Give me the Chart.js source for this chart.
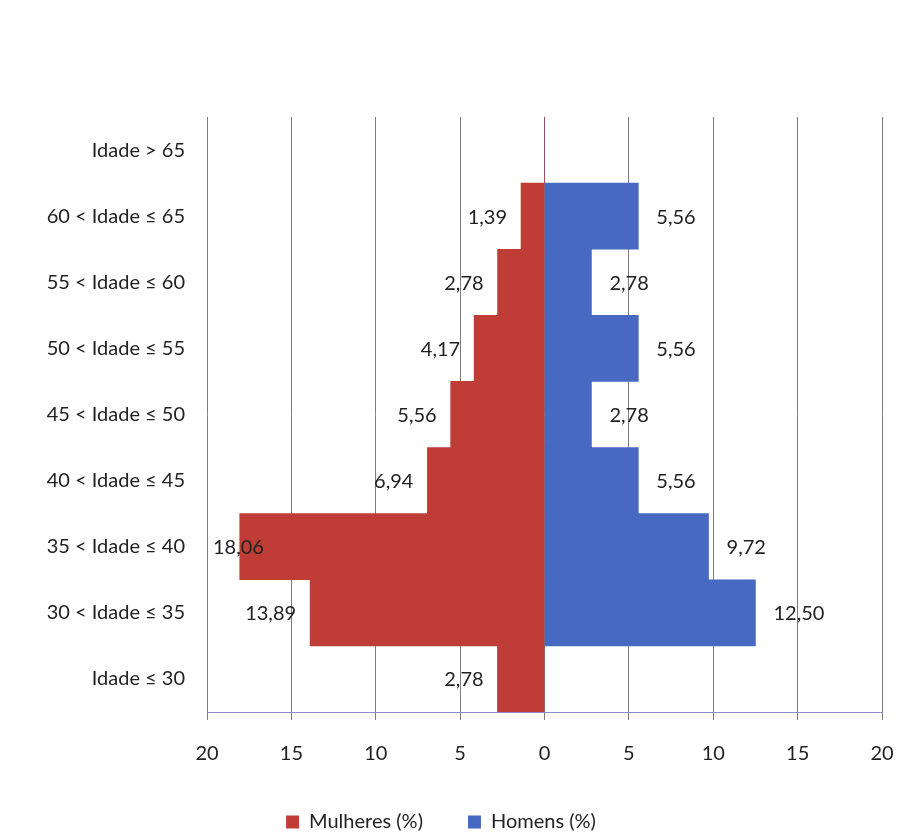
<!DOCTYPE html>
<html>
<head>
<meta charset="utf-8">
<script src="https://cdn.jsdelivr.net/npm/chart.js@4"></script>
<style>
  html, body { margin: 0; padding: 0; background: #fff; }
  #wrap { width: 897px; height: 836px; }
</style>
</head>
<body>
<div id="wrap"><canvas id="pyramid" width="897" height="836"></canvas></div>
<script>
// age groups, top to bottom
const ageGroups = [
  "Idade > 65",
  "60 < Idade ≤ 65",
  "55 < Idade ≤ 60",
  "50 < Idade ≤ 55",
  "45 < Idade ≤ 50",
  "40 < Idade ≤ 45",
  "35 < Idade ≤ 40",
  "30 < Idade ≤ 35",
  "Idade ≤ 30",
];
const mulheres = [0, 1.39, 2.78, 4.17, 5.56, 6.94, 18.06, 13.89, 2.78];
const homens = [0, 5.56, 2.78, 5.56, 2.78, 5.56, 9.72, 12.5, 0];
const xTicks = [-20, -15, -10, -5, 0, 5, 10, 15, 20];

const RED = "#c03c36";
const BLUE = "#4769c2";
const FONT = "Lato";

function fmt(v) {
  return Math.abs(v).toFixed(2).replace(".", ",");
}

// value labels at the end of each bar
const barLabels = {
  id: "barLabels",
  afterDatasetsDraw(chart) {
    const ctx = chart.ctx;
    const area = chart.chartArea;
    ctx.save();
    ctx.font = "20px " + FONT;
    ctx.fillStyle = "#222";
    ctx.textBaseline = "middle";
    ctx.textAlign = "left";
    chart.data.datasets.forEach((ds, di) => {
      const meta = chart.getDatasetMeta(di);
      meta.data.forEach((bar, i) => {
        const v = ds.data[i];
        if (!v) return;
        const txt = fmt(v);
        const w = ctx.measureText(txt).width;
        if (v < 0) {
          let x = bar.x - 14 - w;
          if (x < area.left + 6) x = area.left + 6;
          ctx.fillText(txt, x, bar.y + 1);
        } else {
          ctx.fillText(txt, bar.x + 18, bar.y + 1);
        }
      });
    });
    ctx.restore();
  },
};

new Chart(document.getElementById("pyramid"), {
  type: "bar",
  data: {
    labels: ageGroups,
    datasets: [
      {
        label: "Mulheres (%)",
        data: mulheres.map((v) => -v),
        backgroundColor: RED,
        borderWidth: 0,
        barPercentage: 1,
        categoryPercentage: 1,
      },
      {
        label: "Homens (%)",
        data: homens,
        backgroundColor: BLUE,
        borderWidth: 0,
        barPercentage: 1,
        categoryPercentage: 1,
      },
    ],
  },
  options: {
    indexAxis: "y",
    responsive: false,
    animation: false,
    layout: {
      padding: { top: 117, right: 15, left: 0, bottom: -6 },
    },
    scales: {
      x: {
        stacked: true,
        min: -20,
        max: 20,
        afterBuildTicks: (scale) => {
          scale.ticks = xTicks.map((v) => ({ value: v }));
        },
        afterFit: (scale) => {
          scale.paddingRight = 0;
          scale.paddingLeft = 0;
          scale.height = 55;
        },
        ticks: {
          callback: (v) => Math.abs(v),
          color: "#222",
          font: { family: FONT, size: 20 },
          padding: 22,
          maxRotation: 0,
        },
        grid: {
          color: "#7c7c7c",
          lineWidth: 1,
          tickLength: 8,
          tickColor: "#7c7c7c",
        },
        border: { display: true, color: "#8c8cc8", width: 1 },
      },
      y: {
        stacked: true,
        afterFit: (scale) => {
          scale.width = 207;
        },
        ticks: {
          color: "#222",
          font: { family: FONT, size: 20 },
          padding: 14,
        },
        grid: { display: false },
        border: { display: false },
      },
    },
    plugins: {
      tooltip: { enabled: false },
      legend: {
        position: "bottom",
        labels: {
          color: "#222",
          font: { family: FONT, size: 20 },
          boxWidth: 13,
          boxHeight: 13,
          padding: 45,
        },
      },
    },
  },
  plugins: [barLabels],
});
</script>
</body>
</html>
